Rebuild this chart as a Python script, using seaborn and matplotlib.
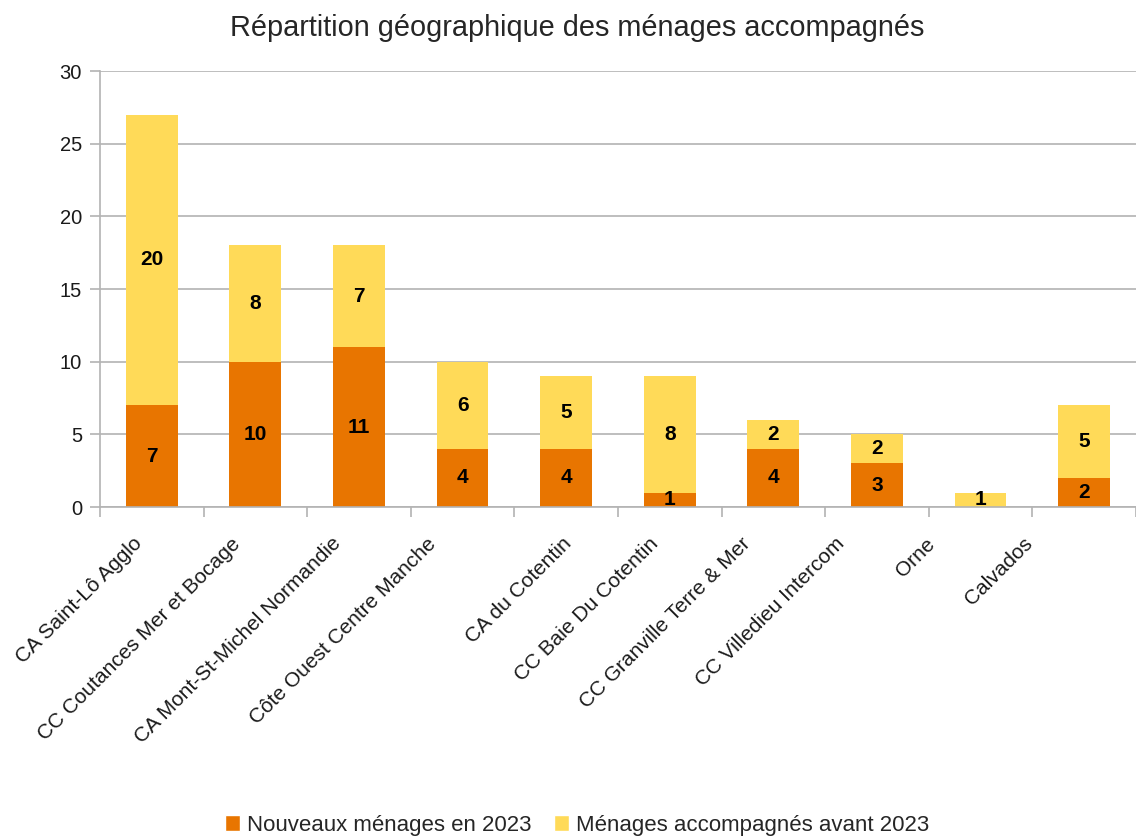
import pandas as pd
import matplotlib.pyplot as plt
import matplotlib.transforms as mtransforms
import seaborn as sns
from matplotlib.patches import Patch

# data
territoires = ['CA Saint-Lô Agglo', 'CC Coutances Mer et Bocage', 'CA Mont-St-Michel Normandie',
               'Côte Ouest Centre Manche', 'CA du Cotentin', 'CC Baie Du Cotentin',
               'CC Granville Terre & Mer', 'CC Villedieu Intercom', 'Orne', 'Calvados']
nouveaux = [7, 10, 11, 4, 4, 1, 4, 3, 0, 2]
avant = [20, 8, 7, 6, 5, 8, 2, 2, 1, 5]
yticks = [0, 5, 10, 15, 20, 25, 30]

# horizontal nudge (px) of each rotated name, as laid out in the original
decalages_px = [10, 16, 19, 27, -5, 12, 24, 33, 46, 52]

orange = '#E87500'
jaune = '#FFDA58'
gris = '#b3b3b3'

df = pd.DataFrame({'territoire': territoires, 'nouveaux': nouveaux, 'avant': avant})
df['total'] = df['nouveaux'] + df['avant']

sns.set_style('white')
plt.rcParams['font.family'] = ['Liberation Sans', 'DejaVu Sans']

fig = plt.figure(figsize=(11.36, 8.36), dpi=100)
ax = fig.add_axes([0.088, 0.3935, 0.912, 0.5215])

sns.barplot(data=df, x='territoire', y='total', color=jaune, width=0.5,
            saturation=1, ax=ax, zorder=3, linewidth=0)
sns.barplot(data=df, x='territoire', y='nouveaux', color=orange, width=0.5,
            saturation=1, ax=ax, zorder=3, linewidth=0)

# value labels, centred in each segment
for i, row in df.iterrows():
    if row['nouveaux'] > 0:
        ax.text(i, row['nouveaux'] / 2, str(row['nouveaux']), ha='center', va='center',
                fontsize=15, fontweight='bold', color='black', zorder=5)
    if row['avant'] > 0:
        ax.text(i, row['nouveaux'] + row['avant'] / 2, str(row['avant']), ha='center',
                va='center', fontsize=15, fontweight='bold', color='black', zorder=5)

ax.set_xlim(-0.5, len(territoires) - 0.5)
ax.set_ylim(0, 30)
ax.set_yticks(yticks)
ax.yaxis.grid(True, color=gris, linewidth=1.2, zorder=0)
ax.set_axisbelow(True)
for s in ['top', 'right']:
    ax.spines[s].set_visible(False)
for s in ['bottom', 'left']:
    ax.spines[s].set_color(gris)
    ax.spines[s].set_linewidth(1.2)
    ax.spines[s].set_zorder(4)

# ticks at category boundaries on x, names drawn as rotated texts
ax.set_xticks([i - 0.5 for i in range(len(territoires) + 1)])
ax.set_xticklabels([''] * (len(territoires) + 1))
for i, nom in enumerate(territoires):
    decal = mtransforms.ScaledTranslation((-9 - decalages_px[i]) / 100, -0.27,
                                          fig.dpi_scale_trans)
    ax.text(i, 0, nom, transform=ax.get_xaxis_transform() + decal, rotation=45,
            rotation_mode='anchor', ha='right', va='top', fontsize=15, color='#1a1a1a')

ax.tick_params(axis='x', length=7, width=1.2, color=gris, bottom=True)
ax.tick_params(axis='y', length=7, width=1.2, color=gris, left=True, labelsize=14.5,
               pad=6, labelcolor='#1a1a1a')
ax.set_xlabel('')
ax.set_ylabel('')

fig.suptitle('Répartition géographique des ménages accompagnés', fontsize=20.8,
             y=0.966, x=0.508, va='center')

handles = [Patch(facecolor=orange, label='Nouveaux ménages en 2023'),
           Patch(facecolor=jaune, label='Ménages accompagnés avant 2023')]
fig.legend(handles=handles, loc='center', bbox_to_anchor=(0.508, 0.013), ncol=2,
           frameon=False, fontsize=16, handlelength=0.7, handleheight=0.7,
           handletextpad=0.3, columnspacing=1.0)

plt.savefig('out.png', dpi=100)
plt.close()
